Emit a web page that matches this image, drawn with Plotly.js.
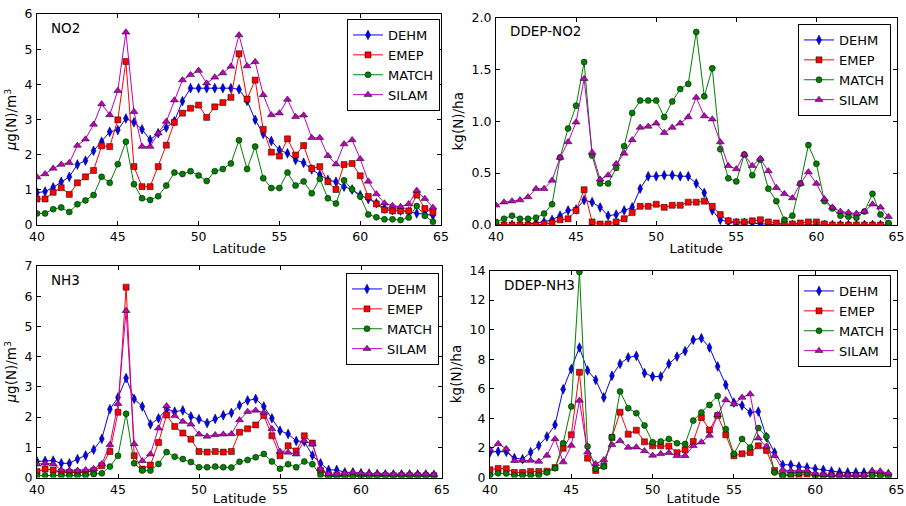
<!DOCTYPE html>
<html>
<head>
<meta charset="utf-8">
<script src="https://cdn.plot.ly/plotly-3.0.1.min.js"></script>
<style>html,body{margin:0;padding:0;background:#fff;}#chart{width:906px;height:506px;}</style>
</head>
<body>
<div id="chart"></div>
<script>
// ---------- data ----------
const latitude = [40,40.5,41,41.5,42,42.5,43,43.5,44,44.5,45,45.5,46,46.5,47,47.5,48,48.5,49,49.5,
  50,50.5,51,51.5,52,52.5,53,53.5,54,54.5,55,55.5,56,56.5,57,57.5,58,58.5,59,59.5,
  60,60.5,61,61.5,62,62.5,63,63.5,64,64.5];
const models = ["DEHM","EMEP","MATCH","SILAM"];
const panelNames = ["NO2","DDEP-NO2","NH3","DDEP-NH3"];
const xTicks = [40,45,50,55,60,65];

const no2_DEHM  = [0.92,0.95,1.07,1.23,1.37,1.72,1.83,2.11,2.37,2.65, 2.70,3.03,2.92,2.72,2.42,2.61,2.77,2.95,3.52,3.89,
  3.89,3.89,3.89,3.89,3.89,3.86,3.53,2.99,2.59,2.39, 2.13,2.04,1.85,1.77,1.58,1.43,1.28,1.23,1.09,1.01,
  0.85,0.74,0.62,0.47,0.43,0.41,0.38,0.33,0.31,0.27];
const no2_EMEP  = [0.74,0.74,0.93,1.06,0.87,1.20,1.37,1.55,2.25,2.23, 2.99,4.65,1.66,1.09,1.09,1.66,2.27,2.92,3.18,3.32,
  3.41,3.06,3.36,3.48,3.63,4.87,3.58,4.12,2.72,2.07, 1.96,2.45,1.99,2.26,1.61,1.66,1.23,1.01,1.72,1.75,
  1.40,0.81,0.60,0.43,0.40,0.40,0.40,0.85,0.47,0.36];
const no2_MATCH = [0.33,0.33,0.45,0.50,0.37,0.59,0.70,0.85,1.37,1.20, 1.73,2.37,1.16,0.76,0.71,0.82,1.12,1.49,1.45,1.53,
  1.41,1.25,1.53,1.59,1.75,2.41,1.59,2.23,1.33,1.05, 1.05,1.49,1.12,1.24,0.90,1.31,0.76,0.61,1.27,1.01,
  0.81,0.30,0.22,0.16,0.16,0.14,0.21,0.54,0.26,0.09];
const no2_SILAM = [1.36,1.45,1.61,1.72,1.77,2.26,2.44,2.86,3.44,3.13, 3.82,5.48,3.22,2.23,2.23,2.61,2.94,3.55,4.12,4.27,
  4.39,4.03,4.20,4.32,4.51,5.40,4.52,4.64,3.70,3.13, 3.18,3.57,3.08,3.12,2.48,2.48,1.97,1.73,2.30,2.42,
  1.88,1.24,0.88,0.62,0.55,0.52,0.60,0.98,0.75,0.50];

const ddepNo2_DEHM  = [0.0,0.0,0.0,0.0,0.01,0.02,0.03,0.05,0.09,0.14, 0.15,0.24,0.22,0.17,0.09,0.10,0.14,0.17,0.35,0.47,
  0.47,0.48,0.48,0.47,0.47,0.40,0.31,0.14,0.05,0.03, 0.02,0.02,0.02,0.01,0.01,0.0,0.0,0.0,0.0,0.0,
  0.0,0.0,0.0,0.0,0.0,0.0,0.0,0.0,0.0,0.0];
const ddepNo2_EMEP  = [0.0,0.0,0.0,0.0,0.0,0.0,0.01,0.02,0.05,0.06, 0.14,0.34,0.03,0.01,0.01,0.03,0.06,0.12,0.18,0.18,
  0.20,0.17,0.19,0.19,0.22,0.22,0.23,0.18,0.10,0.04, 0.03,0.03,0.04,0.05,0.03,0.02,0.01,0.01,0.02,0.03,
  0.03,0.01,0.0,0.0,0.0,0.0,0.0,0.0,0.0,0.0];
const ddepNo2_MATCH = [0.03,0.06,0.09,0.06,0.06,0.07,0.11,0.20,0.65,0.93, 1.15,1.57,0.67,0.40,0.40,0.55,0.76,1.08,1.20,1.20,
  1.20,1.04,1.19,1.31,1.36,1.86,1.24,1.51,0.73,0.45, 0.42,0.68,0.48,0.63,0.35,0.23,0.05,0.09,0.40,0.77,
  0.59,0.23,0.16,0.09,0.08,0.07,0.13,0.30,0.10,0.02];
const ddepNo2_SILAM = [0.19,0.22,0.23,0.24,0.27,0.35,0.35,0.43,0.65,0.80, 0.99,1.41,0.70,0.44,0.48,0.59,0.69,0.82,0.94,0.95,
  0.98,0.89,0.94,0.98,1.04,1.23,1.05,1.02,0.80,0.57, 0.54,0.68,0.57,0.64,0.52,0.36,0.30,0.26,0.40,0.51,
  0.40,0.25,0.17,0.13,0.12,0.11,0.13,0.20,0.17,0.08];

const nh3_DEHM  = [0.53,0.55,0.56,0.47,0.47,0.61,0.73,0.92,1.28,2.26, 2.65,3.29,2.60,2.35,1.76,1.96,2.26,2.18,2.22,2.02,
  1.93,1.80,1.94,2.06,2.14,2.39,2.55,2.60,2.35,1.96, 1.55,1.44,1.21,1.19,0.73,0.47,0.25,0.25,0.17,0.17,
  0.14,0.13,0.11,0.10,0.10,0.10,0.10,0.10,0.10,0.09];
const nh3_EMEP  = [0.20,0.28,0.25,0.17,0.17,0.17,0.17,0.22,0.39,0.86, 2.16,6.30,0.72,0.28,0.41,1.16,2.07,1.69,1.47,1.27,
  0.86,0.84,0.86,0.84,0.86,1.50,1.61,1.74,2.05,1.38, 0.72,1.05,0.88,1.38,1.14,0.23,0.09,0.07,0.07,0.07,
  0.07,0.06,0.06,0.06,0.06,0.06,0.06,0.06,0.06,0.06];
const nh3_MATCH = [0.06,0.07,0.07,0.06,0.06,0.06,0.07,0.11,0.14,0.36, 0.72,2.11,0.47,0.23,0.23,0.45,0.84,0.69,0.61,0.51,
  0.34,0.34,0.36,0.34,0.33,0.52,0.58,0.67,0.78,0.53, 0.29,0.44,0.34,0.53,0.44,0.08,0.03,0.03,0.03,0.03,
  0.04,0.04,0.04,0.04,0.04,0.04,0.04,0.04,0.04,0.04];
const nh3_SILAM = [0.44,0.47,0.45,0.25,0.23,0.23,0.25,0.29,0.45,1.08, 2.44,5.52,1.11,0.55,0.77,1.63,2.37,2.04,1.85,1.76,
  1.43,1.36,1.41,1.43,1.44,1.90,2.18,2.22,2.15,1.61, 0.86,0.83,0.77,1.21,1.10,0.28,0.12,0.11,0.14,0.17,
  0.14,0.13,0.12,0.12,0.11,0.11,0.11,0.11,0.11,0.10];

const ddepNh3_DEHM  = [1.71,1.76,1.74,1.31,1.24,1.71,2.16,2.77,3.56,5.97, 7.33,8.79,7.24,6.60,5.41,6.88,7.69,8.12,8.23,7.06,
  6.83,6.83,7.69,8.18,8.55,9.31,9.42,8.79,7.51,6.27, 5.07,4.87,4.40,4.46,2.73,1.69,0.86,0.86,0.74,0.68,
  0.59,0.52,0.41,0.36,0.34,0.34,0.34,0.34,0.29,0.23];
const ddepNh3_EMEP  = [0.52,0.61,0.59,0.34,0.34,0.41,0.41,0.43,0.68,1.98, 2.89,7.12,1.31,0.47,0.79,2.71,4.42,2.93,3.20,2.41,
  2.14,2.14,2.12,1.68,1.87,2.43,4.06,3.22,4.19,2.89, 1.47,1.60,1.69,2.14,1.83,0.47,0.14,0.14,0.14,0.23,
  0.14,0.12,0.12,0.12,0.12,0.12,0.12,0.12,0.12,0.12];
const ddepNh3_MATCH = [0.16,0.29,0.27,0.14,0.14,0.14,0.16,0.34,0.63,2.32, 4.80,13.9,2.10,0.59,0.74,2.73,5.82,4.69,4.35,3.52,
  2.39,2.43,2.61,2.32,2.27,3.85,4.40,4.91,5.52,3.27, 1.60,2.61,2.03,3.34,2.77,0.34,0.14,0.23,0.29,0.34,
  0.14,0.14,0.14,0.14,0.14,0.14,0.14,0.14,0.14,0.12];
const ddepNh3_SILAM = [1.87,2.28,1.94,1.13,1.15,1.15,1.08,1.49,2.61,1.04, 2.16,5.21,1.71,0.92,1.19,2.21,2.48,2.03,2.05,1.80,
  1.49,1.60,1.67,1.47,1.47,2.14,2.39,2.84,4.24,5.25, 4.96,5.41,5.64,2.66,2.10,1.47,0.52,0.45,0.47,0.47,
  0.25,0.20,0.18,0.16,0.16,0.16,0.16,0.45,0.43,0.29];

// ---------- styling ----------
const FONT = "DejaVu Sans";
const W = 906, H = 506;
const styles = {
  DEHM:  {color:"#0000ff", symbol:"diamond-tall", size:7},
  EMEP:  {color:"#ff0000", symbol:"square", size:6},
  MATCH: {color:"#008000", symbol:"circle", size:6},
  SILAM: {color:"#bf00bf", symbol:"triangle-up", size:7}
};
// panel boxes in pixels: [left, right, top, bottom]
const boxes = [[37,441,14,225],[496,896.5,17.5,225],[37,442,266,477.5],[490,896.5,270.5,477.5]];
const legendPos = [[440,19],[891,24],[439,273],[891,275]];
const yRanges = [[0,6],[0,2],[0,7],[0,14]];
const yDticks = [1,0.5,1,2];
const yFormats = ["d",".1f","d","d"];
const yTitles = ["<i>μ</i>g(N)/m<sup>3</sup>","kg(N)/ha","<i>μ</i>g(N)/m<sup>3</sup>","kg(N)/ha"];

const panelData = [
  [no2_DEHM,no2_EMEP,no2_MATCH,no2_SILAM],
  [ddepNo2_DEHM,ddepNo2_EMEP,ddepNo2_MATCH,ddepNo2_SILAM],
  [nh3_DEHM,nh3_EMEP,nh3_MATCH,nh3_SILAM],
  [ddepNh3_DEHM,ddepNh3_EMEP,ddepNh3_MATCH,ddepNh3_SILAM]
];

const traces = [];
const layout = {
  width:W, height:H, margin:{l:0,r:0,t:0,b:0},
  paper_bgcolor:"#fff", plot_bgcolor:"#fff",
  font:{family:FONT, size:12, color:"#000"},
  showlegend:true, annotations:[]
};

panelData.forEach((series, p) => {
  const ax = p===0 ? "" : String(p+1);
  const lg = p===0 ? "legend" : "legend"+(p+1);
  series.forEach((vals, m) => {
    const st = styles[models[m]];
    traces.push({
      type:"scatter", mode:"lines+markers", name:models[m],
      x:latitude, y:vals, xaxis:"x"+ax, yaxis:"y"+ax, legend:lg,
      line:{color:st.color, width:1},
      marker:{symbol:st.symbol, size:st.size, color:st.color, line:{color:"#000", width:0.5}}
    });
  });
  const b = boxes[p];
  const common = {
    showline:true, linecolor:"#000", linewidth:1, mirror:"allticks",
    ticks:"inside", ticklen:4, tickcolor:"#000", tickwidth:1,
    showgrid:false, zeroline:false, ticklabeloverflow:"allow",
    tickfont:{family:FONT, size:12.5, color:"#000"}
  };
  layout["xaxis"+ax] = Object.assign({}, common, {
    domain:[b[0]/W, b[1]/W], anchor:"y"+ax, range:[40,65],
    tickmode:"array", tickvals:xTicks, ticklabelstandoff:0,
    title:{text:"Latitude", font:{family:FONT, size:13, color:"#000"}, standoff:0}
  });
  layout["yaxis"+ax] = Object.assign({}, common, {
    domain:[1-b[3]/H, 1-b[2]/H], anchor:"x"+ax, range:yRanges[p],
    dtick:yDticks[p], tick0:0, tickformat:yFormats[p], ticklabelstandoff:1,
    title:{text:yTitles[p], font:{family:FONT, size:13.5, color:"#000"}, standoff:4}
  });
  const lp = legendPos[p];
  layout[lg] = {
    x:lp[0]/W, y:1-lp[1]/H, xanchor:"right", yanchor:"top",
    bordercolor:"#000", borderwidth:1, bgcolor:"#fff",
    font:{family:FONT, size:13, color:"#000"}, tracegroupgap:0
  };
  layout.annotations.push({
    xref:"paper", yref:"paper", x:(b[0]+12)/W, y:1-(b[2]+14)/H,
    xanchor:"left", yanchor:"middle", showarrow:false,
    text:panelNames[p], font:{family:FONT, size:13.5, color:"#000"}
  });
});

Plotly.newPlot("chart", traces, layout, {displayModeBar:false, staticPlot:true});
</script>
</body>
</html>
